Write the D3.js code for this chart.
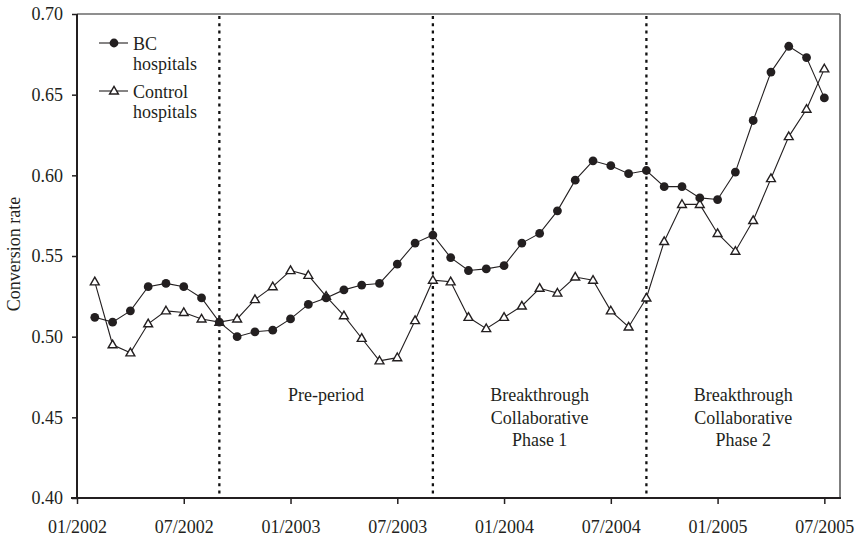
<!DOCTYPE html>
<html>
<head>
<meta charset="utf-8">
<script src="https://cdn.jsdelivr.net/npm/d3@7"></script>
<style>
  html, body { margin: 0; padding: 0; background: #fff; }
  svg { display: block; }
  text { font-family: "Liberation Serif", "Times New Roman", serif; fill: #231f20; }
</style>
</head>
<body>
<svg id="chart" width="857" height="540"></svg>
<script>
// Month index 0 = 01/2002; data run from 02/2002 (1) to 07/2005 (42)
const months = d3.range(1, 43);
const bcValues = [
  0.512, 0.509, 0.516, 0.531, 0.533, 0.531, 0.524, 0.509, 0.500, 0.503, 0.504,
  0.511, 0.520, 0.524, 0.529, 0.532, 0.533, 0.545, 0.558, 0.563, 0.549, 0.541,
  0.542, 0.544, 0.558, 0.564, 0.578, 0.597, 0.609, 0.606, 0.601, 0.603, 0.593,
  0.593, 0.586, 0.585, 0.602, 0.634, 0.664, 0.680, 0.673, 0.648
];
const controlValues = [
  0.534, 0.495, 0.490, 0.508, 0.516, 0.515, 0.511, 0.509, 0.511, 0.523, 0.531,
  0.541, 0.538, 0.525, 0.513, 0.499, 0.485, 0.487, 0.510, 0.535, 0.534, 0.512,
  0.505, 0.512, 0.519, 0.530, 0.527, 0.537, 0.535, 0.516, 0.506, 0.524, 0.559,
  0.582, 0.582, 0.564, 0.553, 0.572, 0.598, 0.624, 0.641, 0.666
];
const xTickMonths = [0, 6, 12, 18, 24, 30, 36, 42];
const xTickLabels = ["01/2002", "07/2002", "01/2003", "07/2003", "01/2004", "07/2004", "01/2005", "07/2005"];
const yTicks = [0.40, 0.45, 0.50, 0.55, 0.60, 0.65, 0.70];
const periodBreaks = [8, 20, 32];
const periodLabels = [
  ["Pre-period"],
  ["Breakthrough", "Collaborative", "Phase 1"],
  ["Breakthrough", "Collaborative", "Phase 2"]
];
const seriesNames = [["BC", "hospitals"], ["Control", "hospitals"]];

(function () {
const svg = d3.select("#chart");
const pL = 77, pR = 840, pT = 14, pB = 498;
const x = d3.scaleLinear().domain([0, 42.88]).range([pL, pR]);
const y = d3.scaleLinear().domain([0.40, 0.70]).range([pB, pT]);
const ink = "#231f20";

// frame: top and right borders (lighter)
svg.append("line").attr("x1", pL).attr("x2", pR).attr("y1", pT).attr("y2", pT)
  .attr("stroke", "#6a6a6a").attr("stroke-width", 1.3);
svg.append("line").attr("x1", pR).attr("x2", pR).attr("y1", pT).attr("y2", pB)
  .attr("stroke", "#555").attr("stroke-width", 1.5);

// period separators
svg.append("g").selectAll("line").data(periodBreaks).join("line")
  .attr("x1", d => x(d)).attr("x2", d => x(d))
  .attr("y1", pT + 2).attr("y2", pB)
  .attr("stroke", "#111").attr("stroke-width", 2.3)
  .attr("stroke-dasharray", "3,4.3");

// Y axis
const yAxis = d3.axisLeft(y).tickValues(yTicks).tickFormat(d3.format(".2f")).tickSize(5).tickPadding(9);
const gy = svg.append("g").attr("transform", `translate(${pL},0)`).call(yAxis);
gy.select(".domain").attr("stroke", ink).attr("stroke-width", 2).attr("d", `M0,${pT}V${pB + 1}`);
gy.selectAll(".tick line").attr("stroke", ink).attr("stroke-width", 1.5);
gy.selectAll(".tick text").attr("font-family", "Liberation Serif").attr("font-size", 18).attr("fill", ink);

// X axis
const xAxis = d3.axisBottom(x).tickValues(xTickMonths).tickFormat((d, i) => xTickLabels[i]).tickSize(6).tickPadding(16);
const gx = svg.append("g").attr("transform", `translate(0,${pB})`).call(xAxis);
gx.select(".domain").attr("stroke", ink).attr("stroke-width", 2).attr("d", `M${pL - 6},0H${pR + 1}`);
gx.selectAll(".tick line").attr("stroke", ink).attr("stroke-width", 1.5);
gx.selectAll(".tick text").attr("font-family", (d) => d === 24 ? "Liberation Sans" : "Liberation Serif")
  .attr("font-size", 18).attr("fill", ink);

// Y label
svg.append("text").attr("transform", `translate(20,254) rotate(-90)`)
  .attr("text-anchor", "middle").attr("font-size", 18).text("Conversion rate");

// period labels
const bounds = [x(periodBreaks[0]), x(periodBreaks[1]), x(periodBreaks[2]), pR];
periodLabels.forEach((lines, i) => {
  const cx = (bounds[i] + bounds[i + 1]) / 2;
  const t = svg.append("text").attr("text-anchor", "middle").attr("font-size", 18);
  lines.forEach((l, j) => t.append("tspan").attr("x", cx).attr("y", 401 + j * 22.5).text(l));
});

// lines
const line = d3.line().x(d => x(d[0])).y(d => y(d[1]));
const bcData = months.map((m, i) => [m, bcValues[i]]);
const ctData = months.map((m, i) => [m, controlValues[i]]);
svg.append("path").datum(ctData).attr("d", line).attr("fill", "none").attr("stroke", ink).attr("stroke-width", 1.1);
svg.append("path").datum(bcData).attr("d", line).attr("fill", "none").attr("stroke", ink).attr("stroke-width", 1.1);

const tri = d3.symbol().type(d3.symbolTriangle).size(34);
svg.append("g").selectAll("path").data(ctData).join("path")
  .attr("transform", d => `translate(${x(d[0])},${y(d[1]) + 0.5})`)
  .attr("d", tri).attr("fill", "#fff").attr("stroke", ink).attr("stroke-width", 1.4);
svg.append("g").selectAll("circle").data(bcData).join("circle")
  .attr("cx", d => x(d[0])).attr("cy", d => y(d[1])).attr("r", 4.4).attr("fill", ink);

// legend
const lg = svg.append("g");
[43, 91].forEach((ly, i) => {
  lg.append("line").attr("x1", 99).attr("x2", 128).attr("y1", ly).attr("y2", ly).attr("stroke", ink).attr("stroke-width", 1.1);
  if (i === 0) {
    lg.append("circle").attr("cx", 114).attr("cy", ly).attr("r", 4.4).attr("fill", ink);
  } else {
    lg.append("path").attr("transform", `translate(114,${ly + 0.5})`).attr("d", tri)
      .attr("fill", "#fff").attr("stroke", ink).attr("stroke-width", 1.4);
  }
  const t = lg.append("text").attr("font-size", 18);
  t.append("tspan").attr("x", 133).attr("y", ly + 6.5).text(seriesNames[i][0]);
  t.append("tspan").attr("x", 133).attr("y", ly + 27).text(seriesNames[i][1]);
});
})();
</script>
</body>
</html>
